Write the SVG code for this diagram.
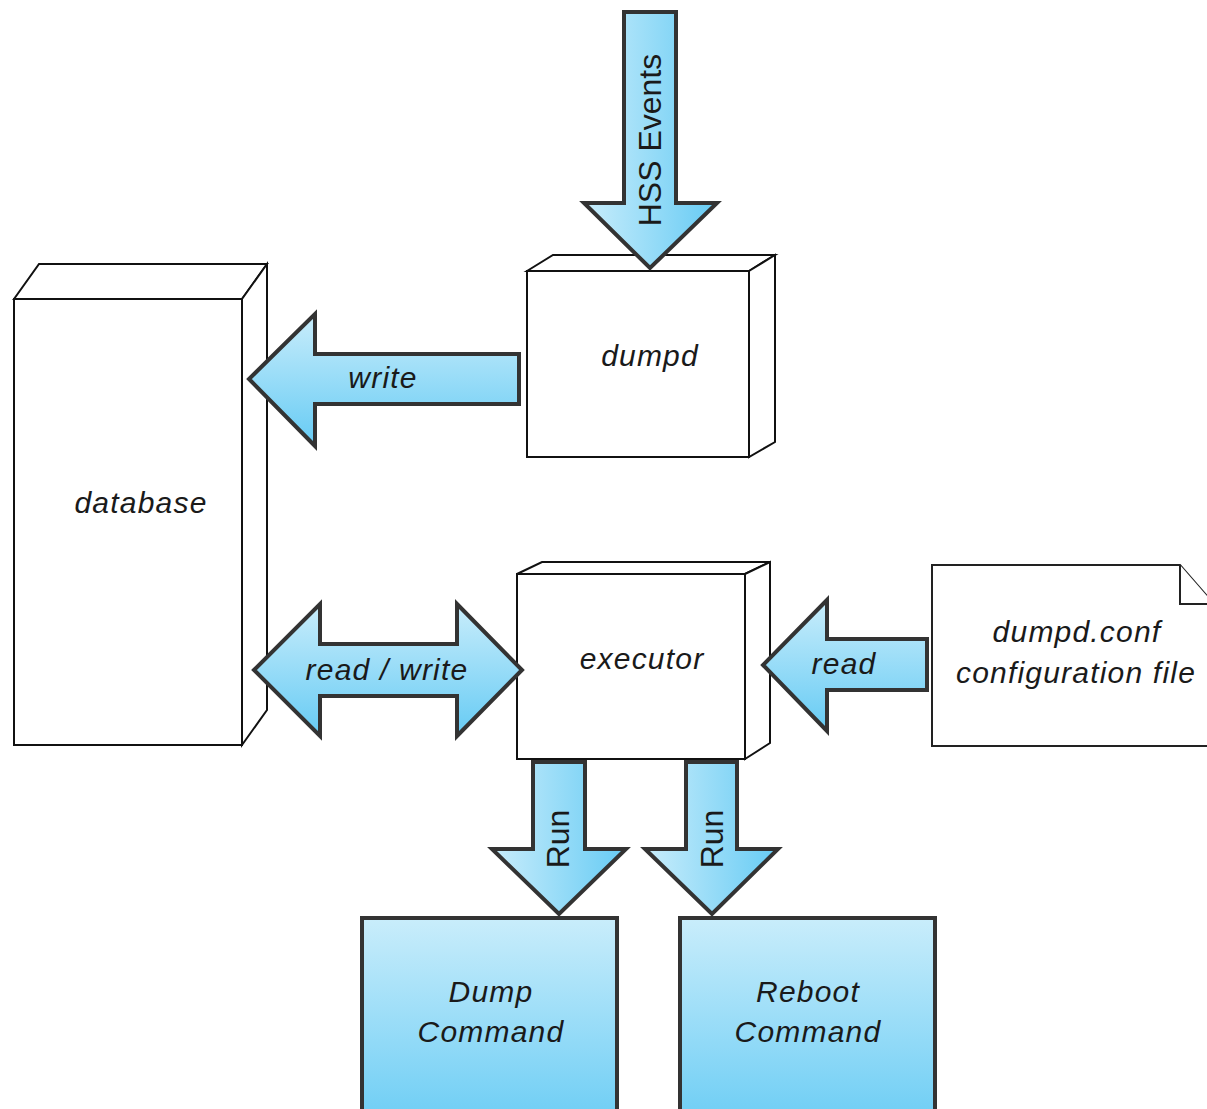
<svg xmlns="http://www.w3.org/2000/svg" width="1207" height="1109" viewBox="0 0 1207 1109">
  <defs>
    <!-- fills for block arrows and command boxes -->
    <linearGradient id="gradV" x1="0" y1="0" x2="0" y2="1">
      <stop offset="0" stop-color="#c9edfb"/>
      <stop offset="1" stop-color="#66cbf4"/>
    </linearGradient>
    <linearGradient id="gradH" x1="0" y1="0" x2="1" y2="0">
      <stop offset="0" stop-color="#c9edfb"/>
      <stop offset="1" stop-color="#66cbf4"/>
    </linearGradient>
    <style>
      .face { fill: #ffffff; stroke: #111111; stroke-width: 2; stroke-linejoin: miter; }
      .doc { fill: #ffffff; stroke: #222222; stroke-width: 2; }
      .cmd { fill: url(#gradV); stroke: #333333; stroke-width: 4; }
      .arrowH { fill: url(#gradV); stroke: #333333; stroke-width: 4; stroke-linejoin: miter; }
      .arrowV { fill: url(#gradH); stroke: #333333; stroke-width: 4; stroke-linejoin: miter; }
      .lbl { font-family: "Liberation Sans", Arial, sans-serif; font-style: italic; font-size: 30px; fill: #1a1a1a; text-anchor: middle; letter-spacing: 1.2px; }
      .vlbl { font-family: "Liberation Sans", Arial, sans-serif; font-size: 32px; fill: #1a1a1a; text-anchor: middle; }
    </style>
  </defs>

  <!-- database: tall 3D box -->
  <g id="database">
    <rect class="face" x="14" y="299" width="228" height="446"/>
    <polygon class="face" points="14,299 39,264 267,264 242,299"/>
    <polygon class="face" points="242,299 267,264 267,710 242,745"/>
    <text class="lbl" x="141" y="513">database</text>
  </g>

  <!-- dumpd daemon -->
  <g id="dumpd">
    <rect class="face" x="527" y="271" width="222" height="186"/>
    <polygon class="face" points="527,271 553,255 775,255 749,271"/>
    <polygon class="face" points="749,271 775,255 775,442 749,457"/>
    <text class="lbl" x="650" y="366">dumpd</text>
  </g>

  <!-- executor -->
  <g id="executor">
    <rect class="face" x="517" y="574" width="228" height="185"/>
    <polygon class="face" points="517,574 542,562 770,562 745,574"/>
    <polygon class="face" points="745,574 770,562 770,743 745,759"/>
    <text class="lbl" x="642" y="669">executor</text>
  </g>

  <!-- configuration file (document with folded corner) -->
  <g id="dumpd-conf">
    <path class="doc" d="M932,565 H1180 L1214,604 V746 H932 Z"/>
    <path class="doc" d="M1180,565 V604 H1214" fill="none"/>
    <text class="lbl" x="1077" y="642">dumpd.conf</text>
    <text class="lbl" x="1076" y="683">configuration file</text>
  </g>

  <!-- commands -->
  <g id="dump-command">
    <rect class="cmd" x="362" y="918" width="255" height="220"/>
    <text class="lbl" x="491" y="1002">Dump</text>
    <text class="lbl" x="491" y="1042">Command</text>
  </g>
  <g id="reboot-command">
    <rect class="cmd" x="680" y="918" width="255" height="220"/>
    <text class="lbl" x="808" y="1002">Reboot</text>
    <text class="lbl" x="808" y="1042">Command</text>
  </g>

  <!-- block-arrow connectors -->
  <g id="connectors">
    <g id="hss-events">
      <polygon class="arrowV" points="624,12 676,12 676,203 717,203 650,268 584,203 624,203"/>
      <text class="vlbl" transform="translate(661,140) rotate(-90)">HSS Events</text>
    </g>
    <g id="write">
      <polygon class="arrowH" points="519,354 315,354 315,314 249,379 315,446 315,404 519,404"/>
      <text class="lbl" x="383" y="388">write</text>
    </g>
    <g id="read-write">
      <polygon class="arrowH" points="254,670 320,604 320,644 457,644 457,604 522,670 457,736 457,696 320,696 320,736"/>
      <text class="lbl" x="387" y="680">read / write</text>
    </g>
    <g id="read">
      <polygon class="arrowH" points="927,639 827,639 827,600 763,665 827,731 827,690 927,690"/>
      <text class="lbl" x="844" y="674">read</text>
    </g>
    <g id="run-dump">
      <polygon class="arrowV" points="533,762 585,762 585,849 626,849 559,914 492,849 533,849"/>
      <text class="vlbl" transform="translate(569,839) rotate(-90)">Run</text>
    </g>
    <g id="run-reboot">
      <polygon class="arrowV" points="686,762 737,762 737,849 778,849 712,914 645,849 686,849"/>
      <text class="vlbl" transform="translate(723,839) rotate(-90)">Run</text>
    </g>
  </g>
</svg>
